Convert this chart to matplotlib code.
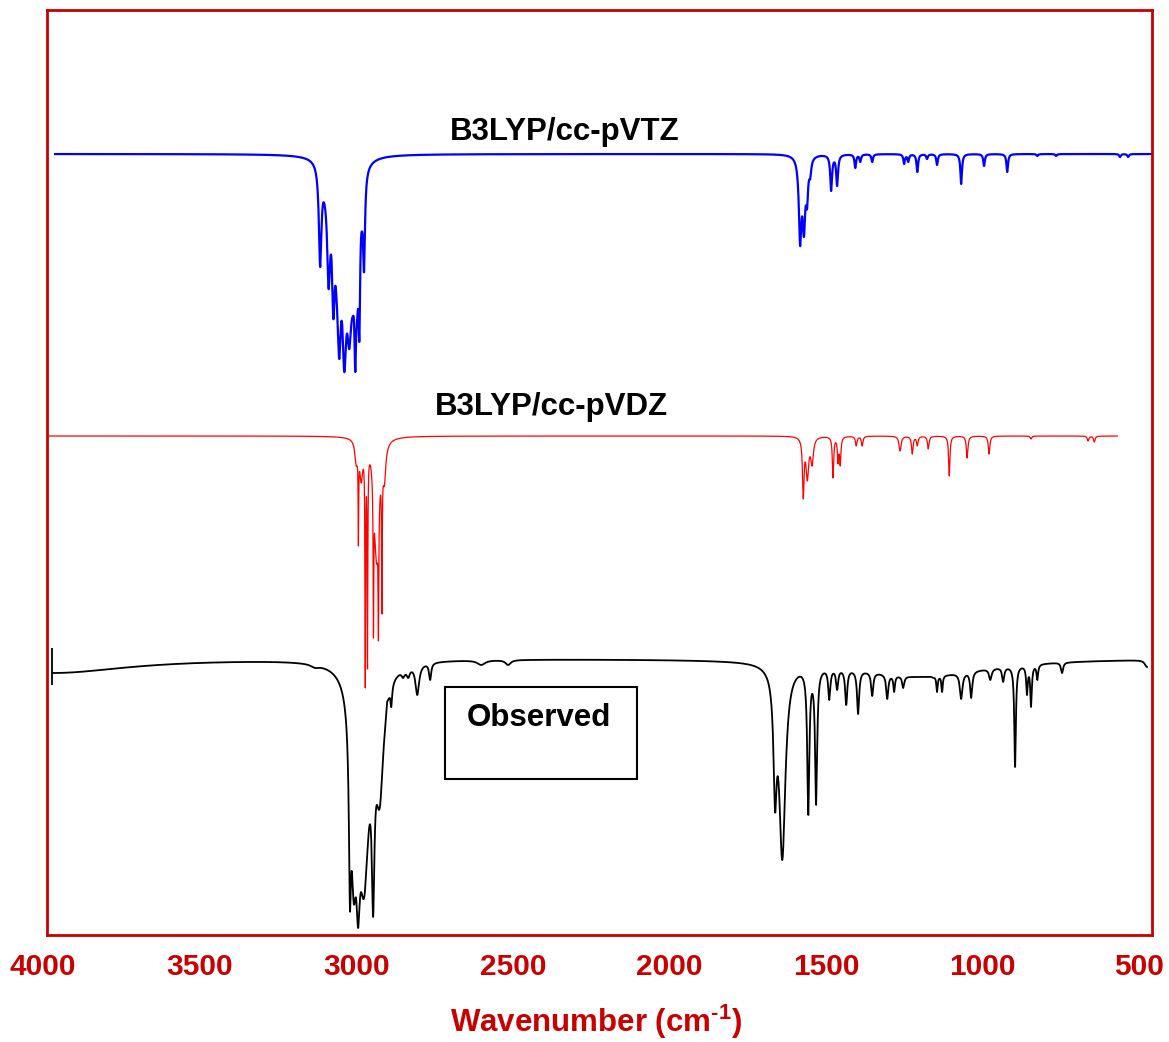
import numpy as np
import matplotlib
matplotlib.use("Agg")
import matplotlib.pyplot as plt
from matplotlib.patches import Rectangle

# ---------------------------------------------------------------------------
# Band lists: (position in cm-1, depth below the trace level, half width)
# Depths are in arbitrary transmittance units (same scale for all traces).
# ---------------------------------------------------------------------------

# B3LYP/cc-pVTZ (computed)
vtz_level = 781
vtz_range = (3961, 460)
vtz_pos = [3115, 3100, 3088, 3073, 3062, 3054, 3038, 3022, 3010, 3003,
           2997, 2990, 2981, 2975,
           1583, 1571, 1561, 1551, 1484, 1465, 1407, 1391, 1353, 1251, 1238,
           1209, 1178, 1146, 1069, 996, 922, 826, 766, 562, 536]
vtz_depth = [113, 53, 135, 165, 150, 205, 218, 195, 162, 218,
             165, 187, 78, 118,
             92, 83, 55, 25, 37, 32, 14, 8, 8, 10, 8,
             18, 5, 11, 30, 12, 18, 2, 2, 3, 3]
vtz_width = [5, 8, 6, 5, 8, 7, 8, 10, 8, 3,
             6, 3, 5, 3.5,
             5, 5, 4, 4, 3.5, 3.5, 3, 3, 3, 3, 3,
             3, 3, 3, 3, 3, 3, 3, 3, 3, 3]

# B3LYP/cc-pVDZ (computed)
vdz_level = 499
vdz_range = (3986, 571)
vdz_pos = [3000, 2993, 2984, 2971, 2964, 2945, 2935, 2929, 2918, 2910,
           1573, 1560, 1545, 1478, 1462, 1455, 1404, 1385, 1264, 1225,
           1209, 1174, 1107, 1050, 980, 846, 664, 644]
vdz_depth = [30, 110, 47, 252, 233, 202, 128, 205, 178, 50,
             63, 45, 30, 42, 28, 30, 10, 10, 15, 18,
             10, 13, 40, 22, 18, 3, 5, 6]
vdz_width = [5, 1.0, 6, 1.2, 1.2, 1.2, 9, 1.2, 1.2, 5,
             3, 5, 5, 2.5, 2.5, 2.5, 3, 3, 4, 3,
             3, 3, 2.5, 3, 3, 3, 3, 3]

# Observed spectrum
obs_level = 277
obs_range = (3970, 476)
obs_start_mark = (3970, 250, 287)
obs_pos = [3970, 3131, 3020, 3008, 2994, 2975, 2946, 2925, 2901, 2888,
           2850, 2834, 2805, 2764, 2601, 2515,
           1663, 1640, 1557, 1532, 1490, 1465, 1436, 1398, 1353, 1305,
           1283, 1254, 1200, 1158, 1146, 1130, 1069, 1037, 976, 935,
           897, 859, 846, 826, 747, 476]
obs_depth = [15, 10, 252, 245, 270, 240, 259, 150, 44, 49,
             20, 20, 37, 22, 7, 7,
             154, 202, 157, 147, 42, 32, 47, 56, 38, 41,
             34, 30, 19, 20, 34, 34, 41, 40, 22, 24,
             109, 37, 49, 22, 15, 9]
obs_width = [300, 15, 4, 10, 7, 20, 5, 15, 3, 3,
             6, 6, 7, 4, 15, 10,
             6, 12, 4, 4, 4, 4, 4, 4, 4, 4,
             3, 4, 250, 3, 2.5, 2.5, 5, 4, 5, 4,
             3, 3, 3, 3, 4, 8]

tick_values = [4000, 3500, 3000, 2500, 2000, 1500, 1000, 500]
label_vtz = "B3LYP/cc-pVTZ"
label_vdz = "B3LYP/cc-pVDZ"
label_obs = "Observed"


def lorentz(x, c, g):
    return 1.0 / (1.0 + ((x - c) / g) ** 2)


def trace(range_, level, pos, depth, width, step=0.25):
    """Sum of Lorentzian bands whose combined depth at each band centre
    equals the listed depth."""
    c = np.asarray(pos, float)
    d = np.asarray(depth, float)
    g = np.asarray(width, float)
    m = lorentz(c[:, None], c[None, :], g[None, :])
    amp = np.linalg.solve(m, d)
    hi, lo = range_
    x = np.arange(lo, hi + step, step)
    y = level - lorentz(x[:, None], c[None, :], g[None, :]) @ amp
    return x, y


plt.rcParams["font.family"] = ["Liberation Sans", "DejaVu Sans"]
plt.rcParams["font.weight"] = "bold"
plt.rcParams["mathtext.fontset"] = "custom"
plt.rcParams["mathtext.rm"] = "Liberation Sans:bold"
plt.rcParams["mathtext.bf"] = "Liberation Sans:bold"
plt.rcParams["mathtext.default"] = "rm"

frame_red = "#c80000"

fig = plt.figure(figsize=(11.69, 10.42), dpi=100)
ax = fig.add_axes([47 / 1169, 107 / 1042, 1105 / 1169, 925 / 1042])

x, y = trace(vtz_range, vtz_level, vtz_pos, vtz_depth, vtz_width)
ax.plot(x, y, color="#0000ff", lw=1.6)
x, y = trace(vdz_range, vdz_level, vdz_pos, vdz_depth, vdz_width)
ax.plot(x, y, color="#ff0000", lw=0.9)
x, y = trace(obs_range, obs_level, obs_pos, obs_depth, obs_width)
ax.plot(x, y, color="black", lw=1.3)
ax.vlines(obs_start_mark[0], obs_start_mark[1], obs_start_mark[2],
          color="black", lw=1.3)

ax.set_xlim(3987, 460)
ax.set_ylim(0, 925)
ax.set_xticks([])
ax.set_yticks([])
for s in ax.spines.values():
    s.set_color(frame_red)
    s.set_linewidth(2.0)

# tick labels below the frame
for v in tick_values:
    ax.text(v, -0.0346, str(v), transform=ax.get_xaxis_transform(),
            ha="center", va="center", fontsize=21.5, fontweight="bold",
            color=frame_red, clip_on=False)

fig.text(596 / 1169, 1 - 1022 / 1042, r"Wavenumber (cm$^{\text{-1}}$)",
         ha="center", va="center", fontsize=22.5, fontweight="bold",
         color=frame_red)

ax.text(2336, 803, label_vtz, ha="center", va="center", fontsize=22.5,
        fontweight="bold", color="black")
ax.text(2378, 528, label_vdz, ha="center", va="center", fontsize=22.5,
        fontweight="bold", color="black")
ax.add_patch(Rectangle((2716, 156), 2103 - 2716, 92, fill=False,
                       edgecolor="black", lw=1.5))
ax.text(2416, 217, label_obs, ha="center", va="center", fontsize=22.5,
        fontweight="bold", color="black")

fig.savefig("out.png", dpi=100, facecolor="white")
